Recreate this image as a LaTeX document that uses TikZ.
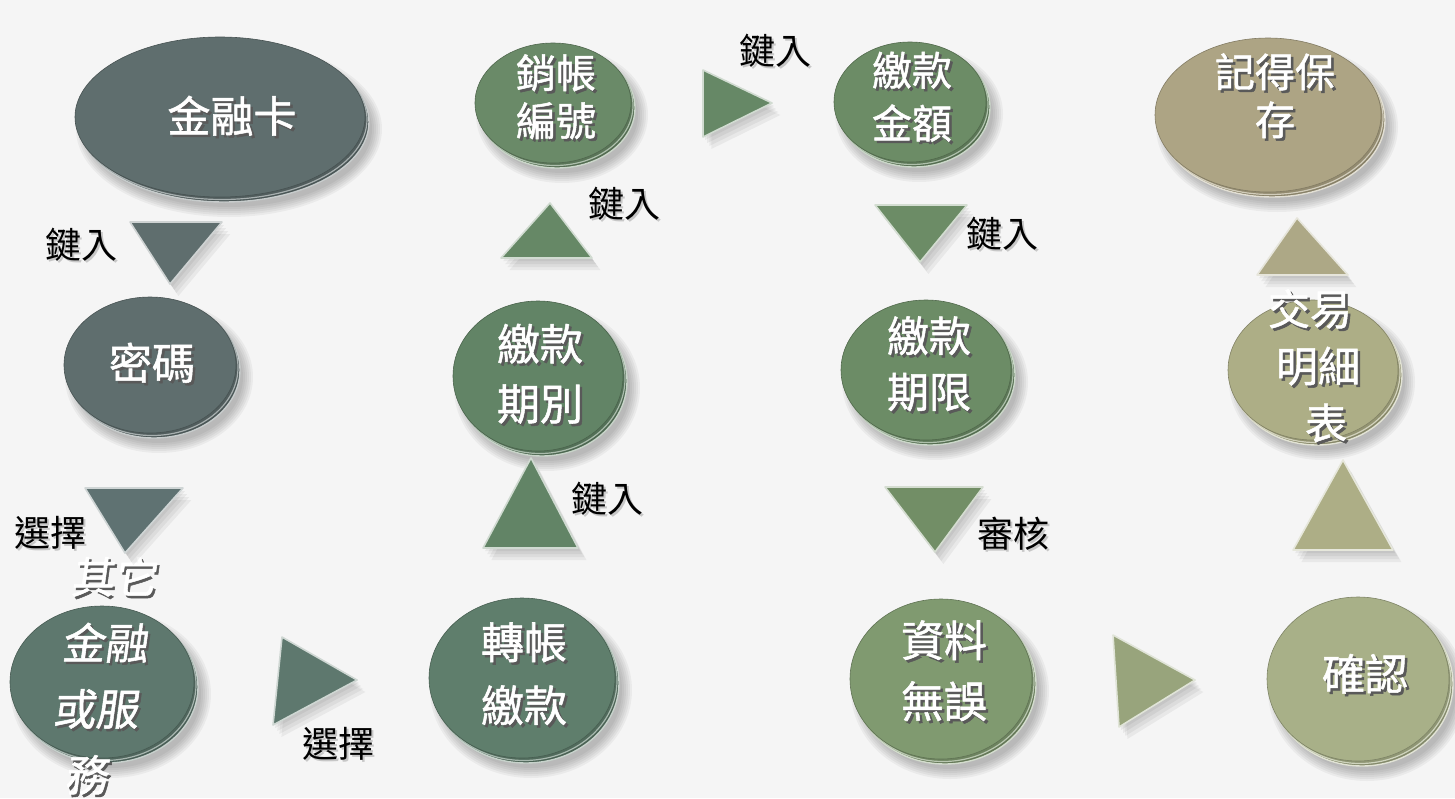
\documentclass[tikz,border=0pt]{standalone}
\usepackage{fontspec}
\newfontfamily\cjk{Noto Sans CJK TC}
\newfontfamily\cjkb[FakeBold=1.2]{Noto Sans CJK TC}
\usetikzlibrary{shapes.geometric,calc}
\definecolor{bg}{HTML}{F5F5F5}
\definecolor{ca}{HTML}{5F6E6E}
\definecolor{cb}{HTML}{5F7272}
\definecolor{cc}{HTML}{5E786E}
\definecolor{cd}{HTML}{5F7E6C}
\definecolor{ce}{HTML}{628466}
\definecolor{cf}{HTML}{668866}
\definecolor{cg}{HTML}{6A8A68}
\definecolor{ch}{HTML}{6C8C66}
\definecolor{ci}{HTML}{728E66}
\definecolor{cj}{HTML}{809A70}
\definecolor{ck}{HTML}{98A47C}
\definecolor{cl}{HTML}{A8B088}
\definecolor{cm}{HTML}{ADAE86}
\definecolor{cn}{HTML}{ADA886}
\definecolor{co}{HTML}{ADA484}
\newcommand\shw[1]{\makebox[0pt][l]{\hspace{2.5pt}\raisebox{-2.5pt}{\textcolor{black!65}{#1}}}\textcolor{white}{#1}}
\newcommand\shb[1]{\makebox[0pt][l]{\hspace{2pt}\raisebox{-2pt}{\textcolor{black!22}{#1}}}\textcolor{black}{#1}}
\tikzset{
  face/.style={ellipse, inner sep=0pt, line width=0.6pt},
  wtext/.style={font=\cjkb\fontsize{43}{60}\selectfont, align=center, inner sep=0pt},
  lbl/.style={font=\cjk\fontsize{36}{40}\selectfont, inner sep=0pt},
}
% name, x, y, rx, ry, colour
\newcommand\coin[6]{%
  \foreach \k in {0,...,5}{\fill[black,opacity=0.045] (#2+9,#3+12) ellipse [x radius={(#4+8-2*\k)*1pt}, y radius={(#5+8-2*\k)*1pt}];}
  \fill[#6!78!black] (#2+4,#3+5) ellipse [x radius={#4pt}, y radius={#5pt}];
  \draw[#6!35!white, line width=1.4pt] (#2+4,#3+5) ellipse [x radius={#4pt}, y radius={#5pt}];
  \draw[#6!55!white, line width=1.2pt, fill=#6!85!black] (#2+2,#3+2.5) ellipse [x radius={#4pt}, y radius={#5pt}];
  \node[face, fill=#6, draw=#6!75!black, minimum width={2*#4pt}, minimum height={2*#5pt}] (#1) at (#2,#3) {};
}
% three corners, colour
\newcommand\tri[4]{%
  \foreach \d in {3,6,9,12}{\fill[black,opacity=0.05] ($(#1)+(\d*0.7,\d)$) -- ($(#2)+(\d*0.7,\d)$) -- ($(#3)+(\d*0.7,\d)$) -- cycle;}
  \filldraw[fill=#4, draw=#4!30!white, line width=1.6pt, line join=round] (#1) -- (#2) -- (#3) -- cycle;
}
\begin{document}
\begin{tikzpicture}[x=1pt,y=-1pt]
\fill[bg] (0,0) rectangle (1455,798);
\useasboundingbox (0,0) rectangle (1455,798);

% coins
\coin{k1}{220}{117}{145}{80}{ca}
\coin{k2}{150}{365}{86}{68}{ca}
\coin{k3}{102}{682}{92}{76}{cc}
\coin{k4}{522}{678}{93}{80}{cd}
\coin{k5}{538}{376}{85}{75}{ce}
\coin{k6}{553}{103}{78}{60}{cg}
\coin{k7}{910}{102}{76}{60}{ch}
\coin{k8}{926}{370}{85}{70}{ch}
\coin{k9}{941}{679}{91}{80}{cj}
\coin{k10}{1358}{679}{91}{82}{cl}
\coin{k11}{1313}{370}{85}{70}{cm}
\coin{k12}{1268}{115}{113}{77}{co}

% coin texts
\node[wtext] (k1t) at (232,117) {\shw{金融卡}};
\node[wtext] (k2t) at (152,364) {\shw{密碼}};
\node[wtext, font=\cjkb\fontsize{43}{66}\selectfont, xslant=0.14] (k3t) at (102,677) {\shw{其它}\\\shw{金融}\\\shw{或服}\\\shw{務}};
\node[wtext, font=\cjkb\fontsize{43}{63}\selectfont] (k4t) at (524,675) {\shw{轉帳}\\\shw{繳款}};
\node[wtext, font=\cjkb\fontsize{43}{60}\selectfont] (k5t) at (540,375) {\shw{繳款}\\\shw{期別}};
\node[wtext, font=\cjkb\fontsize{40}{48}\selectfont] (k6t) at (556,98) {\shw{銷帳}\\\shw{編號}};
\node[wtext, font=\cjkb\fontsize{40}{53}\selectfont] (k7t) at (912,98) {\shw{繳款}\\\shw{金額}};
\node[wtext, font=\cjkb\fontsize{42}{56}\selectfont] (k8t) at (929,365) {\shw{繳款}\\\shw{期限}};
\node[wtext, font=\cjkb\fontsize{43}{61}\selectfont] (k9t) at (944,672) {\shw{資料}\\\shw{無誤}};
\node[wtext] (k10t) at (1365,675) {\shw{確認}};
\node[wtext, font=\cjkb\fontsize{42}{57}\selectfont] (k11t) at (1318,367) {\hspace*{-16pt}\shw{交易}\\\shw{明細}\\\shw{表}\hspace*{-16pt}};
\node[wtext, font=\cjkb\fontsize{40}{48}\selectfont] (k12t) at (1275,97) {\shw{記得保}\\\shw{存}};

% triangles
\tri{130,222}{222,222}{170,284}{ca}
\tri{85,488}{183,488}{125,553}{cb}
\tri{282,637}{273,725}{357,680}{cc}
\tri{483,548}{578,548}{531,458}{ce}
\tri{501,258}{592,258}{550,203}{cf}
\tri{703,70}{703,137}{772,103}{cf}
\tri{875,205}{967,205}{920,262}{ch}
\tri{885,487}{983,487}{935,552}{ci}
\tri{1113,635}{1119,727}{1195,680}{ck}
\tri{1293,550}{1393,550}{1343,460}{cm}
\tri{1257,275}{1348,275}{1297,218}{cn}

% labels
\node[lbl] (l1) at (81,246) {\shb{鍵入}};
\node[lbl] (l2) at (50,534) {\shb{選擇}};
\node[lbl] (l3) at (338,745) {\shb{選擇}};
\node[lbl] (l4) at (607,500) {\shb{鍵入}};
\node[lbl] (l5) at (624,205) {\shb{鍵入}};
\node[lbl] (l6) at (775,52) {\shb{鍵入}};
\node[lbl] (l7) at (1002,235) {\shb{鍵入}};
\node[lbl] (l8) at (1013,535) {\shb{審核}};
\end{tikzpicture}
\end{document}
